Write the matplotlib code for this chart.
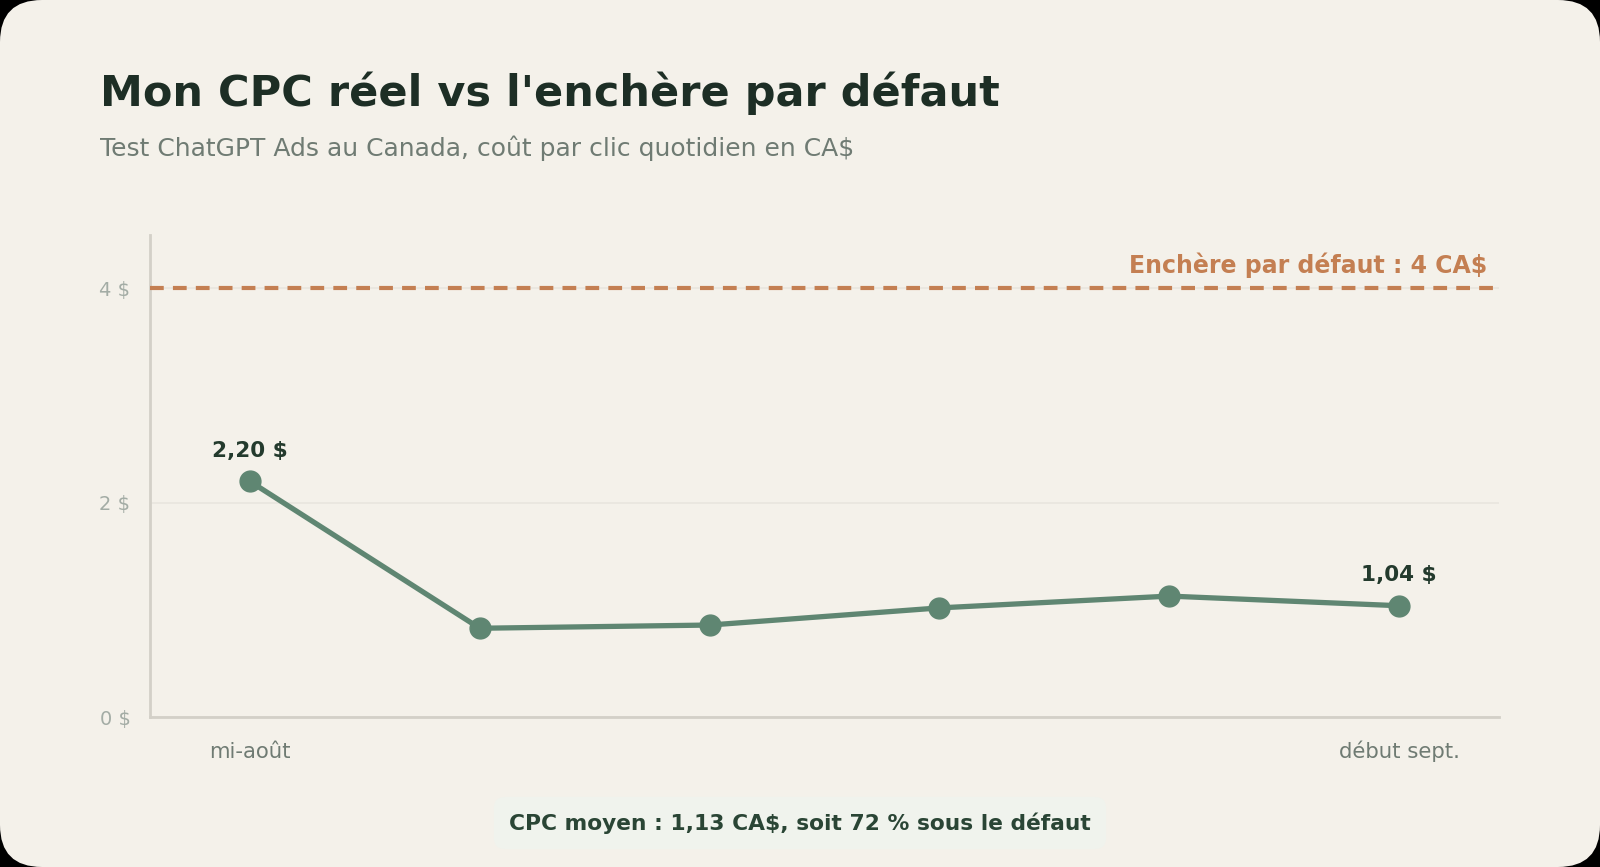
import matplotlib
matplotlib.use("Agg")
import matplotlib.pyplot as plt
from matplotlib.patches import FancyBboxPatch
from matplotlib.transforms import IdentityTransform

# ---- data ----
categories = ["mi-août", "", "", "", "", "début sept."]
cpc_values = [2.20, 0.83, 0.86, 1.02, 1.13, 1.04]
default_bid = 4.0
y_ticks = [0, 2, 4]
y_tick_labels = ["0 $", "2 $", "4 $"]
labelled_points = {0: "2,20 $", 5: "1,04 $"}

title = "Mon CPC réel vs l'enchère par défaut"
subtitle = "Test ChatGPT Ads au Canada, coût par clic quotidien en CA$"
bid_label = "Enchère par défaut : 4 CA$"
footer = "CPC moyen : 1,13 CA$, soit 72 % sous le défaut"

# ---- style ----
BG = "#f4f1ea"
DARK = "#1d2e25"
GREEN = "#5f8672"
ORANGE = "#c47f52"
GREY = "#6f7b73"
LIGHT = "#a3aca5"
SPINE = "#d3d0c8"
GRID = "#e8e5de"

plt.rcParams['font.family'] = ['DejaVu Sans']

fig = plt.figure(figsize=(16, 8.67), dpi=100)
fig.patch.set_facecolor("black")
bg = FancyBboxPatch((0, 0), 1600, 867, boxstyle="round,pad=0,rounding_size=42",
                    transform=IdentityTransform(), facecolor=BG, edgecolor="none",
                    zorder=-10)
fig.patches.append(bg)

ax = fig.add_axes([0.0937, 0.1727, 0.8433, 0.5566])
ax.set_facecolor(BG)

x = list(range(len(cpc_values)))
ax.plot(x, cpc_values, color=GREEN, lw=3.8, marker="o", markersize=15,
        solid_capstyle="round", zorder=4)
ax.axhline(default_bid, color=ORANGE, lw=3, ls=(0, (3.3, 2.2)), zorder=3)

for i, lab in labelled_points.items():
    ax.annotate(lab, (x[i], cpc_values[i]), xytext=(0, 15), textcoords="offset points",
                ha="center", va="bottom", fontsize=15.5, fontweight="bold", color="#233a2d")

ax.text(1.0 - 0.0085, default_bid + 0.1, bid_label, transform=ax.get_yaxis_transform(),
        ha="right", va="bottom", fontsize=17, fontweight="bold", color=ORANGE)

ax.set_xlim(-0.435, 5.435)
ax.set_ylim(0, 4.5)
ax.set_yticks(y_ticks)
ax.set_yticklabels(y_tick_labels)
ax.set_xticks(x)
ax.set_xticklabels(categories, va="baseline")
ax.tick_params(axis="y", length=0, pad=14, labelsize=14, labelcolor=LIGHT)
ax.tick_params(axis="x", length=0, pad=29, labelsize=15.3, labelcolor=GREY)
ax.grid(axis="y", color=GRID, lw=1.2)
ax.set_axisbelow(True)
for s in ["top", "right"]:
    ax.spines[s].set_visible(False)
for s in ["left", "bottom"]:
    ax.spines[s].set_color(SPINE)
    ax.spines[s].set_linewidth(2)

fig.text(100 / 1600, 1 - 106 / 867, title, fontsize=31, fontweight="bold",
         color=DARK, ha="left", va="baseline")
fig.text(100 / 1600, 1 - 156 / 867, subtitle, fontsize=18, color=GREY,
         ha="left", va="baseline")
fig.text(0.5, 1 - 823 / 867, footer, fontsize=15.7, fontweight="bold", color="#2a4535",
         ha="center", va="center",
         bbox=dict(boxstyle="round,pad=0.7,rounding_size=0.5", facecolor="#f0f3ed",
                   edgecolor="none"))

fig.savefig("out.png", dpi=100, facecolor=fig.get_facecolor())
